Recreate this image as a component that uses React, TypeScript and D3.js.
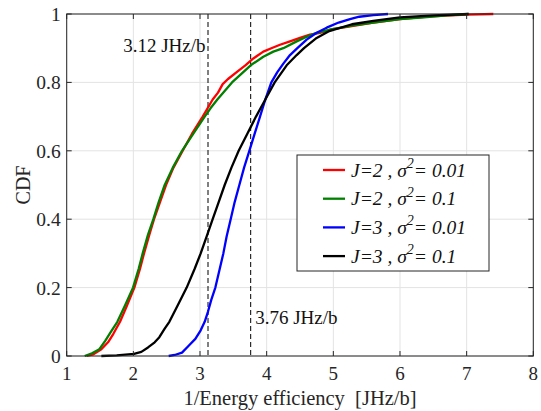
import React from "react";
import * as d3 from "d3";

const xTicks = [1, 2, 3, 4, 5, 6, 7, 8];
const yTicks = [0, 0.2, 0.4, 0.6, 0.8, 1];
const yTickLabels = ["0", "0.2", "0.4", "0.6", "0.8", "1"];

const seriesNames = ["J=2 , ", "J=2 , ", "J=3 , ", "J=3 , "];
const seriesSigma = ["0.01", "0.1", "0.01", "0.1"];
const seriesColors = ["#ff0000", "#008000", "#0000ff", "#000000"];

const redCdf: [number, number][] = [
  [1.3, 0], [1.4, 0.005], [1.52, 0.02], [1.62, 0.04], [1.7, 0.065], [1.8, 0.1], [1.9, 0.145],
  [2.015, 0.2], [2.1, 0.255], [2.16, 0.3], [2.24, 0.355], [2.31, 0.4], [2.4, 0.45], [2.49, 0.5],
  [2.6, 0.55], [2.74, 0.6], [2.88, 0.65], [3.04, 0.7], [3.1, 0.72], [3.19, 0.75], [3.27, 0.77],
  [3.34, 0.795], [3.42, 0.81], [3.55, 0.83], [3.68, 0.85], [3.8, 0.87], [3.95, 0.89], [4.07, 0.9],
  [4.2, 0.91], [4.35, 0.92], [4.5, 0.93], [4.65, 0.94], [4.8, 0.945], [4.97, 0.955], [5.3, 0.965],
  [5.6, 0.975], [6.0, 0.985], [6.45, 0.993], [7.0, 0.998], [7.4, 1.0],
];
const greenCdf: [number, number][] = [
  [1.27, 0], [1.38, 0.008], [1.49, 0.02], [1.58, 0.045], [1.66, 0.07], [1.76, 0.1], [1.88, 0.15],
  [1.995, 0.2], [2.08, 0.255], [2.14, 0.3], [2.22, 0.355], [2.3, 0.4], [2.38, 0.45], [2.47, 0.5],
  [2.59, 0.55], [2.73, 0.6], [2.9, 0.65], [3.07, 0.7], [3.16, 0.725], [3.26, 0.75], [3.37, 0.775],
  [3.48, 0.8], [3.62, 0.825], [3.76, 0.85], [3.95, 0.875], [4.1, 0.89], [4.25, 0.9], [4.45, 0.92],
  [4.56, 0.93], [4.75, 0.945], [4.97, 0.955], [5.3, 0.967], [5.6, 0.975], [6.0, 0.985],
  [6.36, 0.99], [6.7, 0.996], [7.03, 1.0],
];
const blueCdf: [number, number][] = [
  [2.53, 0], [2.62, 0.003], [2.73, 0.01], [2.83, 0.03], [2.93, 0.05], [3.01, 0.075], [3.07, 0.1],
  [3.12, 0.13], [3.17, 0.165], [3.23, 0.2], [3.29, 0.25], [3.35, 0.3], [3.4, 0.35], [3.46, 0.4],
  [3.52, 0.45], [3.59, 0.5], [3.66, 0.55], [3.74, 0.6], [3.82, 0.65], [3.9, 0.7], [3.98, 0.75],
  [4.07, 0.8], [4.16, 0.83], [4.25, 0.855], [4.35, 0.88], [4.46, 0.9], [4.6, 0.925], [4.75, 0.945],
  [4.9, 0.96], [5.08, 0.975], [5.25, 0.985], [5.39, 0.992], [5.6, 0.997], [5.82, 1.0],
];
const blackCdf: [number, number][] = [
  [1.52, 0], [1.75, 0.002], [2.01, 0.006], [2.12, 0.012], [2.22, 0.025], [2.32, 0.04], [2.39, 0.055],
  [2.47, 0.08], [2.54, 0.1], [2.67, 0.15], [2.8, 0.2], [2.92, 0.255], [3.01, 0.3], [3.1, 0.35],
  [3.19, 0.4], [3.28, 0.45], [3.37, 0.5], [3.47, 0.55], [3.58, 0.6], [3.71, 0.65], [3.84, 0.7],
  [3.98, 0.75], [4.12, 0.8], [4.3, 0.85], [4.45, 0.88], [4.56, 0.9], [4.75, 0.93], [4.94, 0.95],
  [5.28, 0.97], [5.6, 0.98], [6.0, 0.99], [6.5, 0.996], [7.03, 1.0],
];
const allSeries = [redCdf, greenCdf, blueCdf, blackCdf];

const markers = [3.12, 3.76];
const markerLabels = ["3.12 JHz/b", "3.76 JHz/b"];

const W = 541, H = 411;
const L = 66.7, R = 533.3, T = 14, B = 356;
const FONT = '"Liberation Serif", "Times New Roman", Times, serif';
const AX = "#262626";

export default function App() {
  const x = d3.scaleLinear().domain([1, 8]).range([L, R]);
  const y = d3.scaleLinear().domain([0, 1]).range([B, T]);
  const line = d3.line<[number, number]>().x((d) => x(d[0])).y((d) => y(d[1]));
  const tl = 5;
  const ts = { fontFamily: FONT };

  return (
    <svg width={W} height={H} style={{ position: "absolute", left: 0, top: 0, background: "#fff", fontFamily: FONT }}>
      <rect x={0} y={0} width={W} height={H} fill="#fff" />
      {xTicks.map((t) => (
        <line key={"gx" + t} x1={x(t)} x2={x(t)} y1={T} y2={B} stroke="#e3e3e3" strokeWidth={1} />
      ))}
      {yTicks.map((t) => (
        <line key={"gy" + t} x1={L} x2={R} y1={y(t)} y2={y(t)} stroke="#e3e3e3" strokeWidth={1} />
      ))}
      {markers.map((m) => (
        <line key={"m" + m} x1={x(m)} x2={x(m)} y1={T} y2={B} stroke="#000" strokeWidth={1} strokeDasharray="5,3" />
      ))}
      {allSeries.map((s, i) => (
        <path key={"s" + i} d={line(s) || ""} fill="none" stroke={seriesColors[i]} strokeWidth={2.3} strokeLinejoin="round" />
      ))}
      <rect x={L} y={T} width={R - L} height={B - T} fill="none" stroke={AX} strokeWidth={1} />
      {xTicks.map((t) => (
        <g key={"tx" + t}>
          <line x1={x(t)} x2={x(t)} y1={B} y2={B - tl} stroke={AX} />
          <line x1={x(t)} x2={x(t)} y1={T} y2={T + tl} stroke={AX} />
          <text style={ts} x={x(t)} y={380} textAnchor="middle" fontSize={19} fill={AX}>{t}</text>
        </g>
      ))}
      {yTicks.map((t, i) => (
        <g key={"ty" + t}>
          <line x1={L} x2={L + tl} y1={y(t)} y2={y(t)} stroke={AX} />
          <line x1={R} x2={R - tl} y1={y(t)} y2={y(t)} stroke={AX} />
          <text style={ts} x={L - 6} y={y(t) + 7} textAnchor="end" fontSize={19.5} fill={AX}>{yTickLabels[i]}</text>
        </g>
      ))}
      <text style={ts} x={x(markers[0]) - 2.5} y={51.5} textAnchor="end" fontSize={19} fill="#111">{markerLabels[0]}</text>
      <text style={ts} x={x(markers[1]) + 4.5} y={324} textAnchor="start" fontSize={19} fill="#111">{markerLabels[1]}</text>
      <text style={{ ...ts, whiteSpace: "pre" }} x={(L + R) / 2} y={404.5} textAnchor="middle" fontSize={20.5} fill={AX}>1/Energy efficiency  [JHz/b]</text>
      <text style={ts} transform={`translate(30,${(T + B) / 2}) rotate(-90)`} textAnchor="middle" fontSize={20} fill={AX}>CDF</text>
      <rect x={297} y={155} width={192} height={116} fill="#fff" stroke={AX} strokeWidth={1} />
      {seriesNames.map((n, i) => {
        const ly = 170 + i * 28.7;
        return (
          <g key={"lg" + i}>
            <line x1={323} x2={345} y1={ly} y2={ly} stroke={seriesColors[i]} strokeWidth={2.3} />
            <text style={{ ...ts, whiteSpace: "pre" }} x={351} y={ly + 6.5} fontSize={19.5} fontStyle="italic" fill="#111">
              {n}
              <tspan>σ</tspan>
              <tspan dy={-8.5} fontSize={14}>2</tspan>
              <tspan dy={8.5}>= {seriesSigma[i]}</tspan>
            </text>
          </g>
        );
      })}
    </svg>
  );
}
